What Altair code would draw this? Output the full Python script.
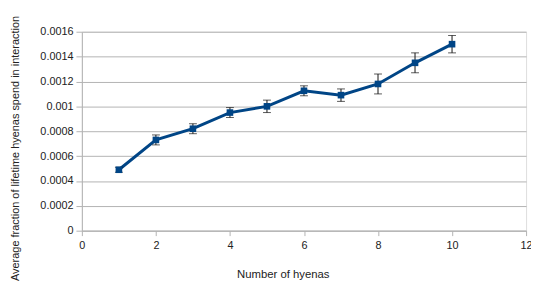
import altair as alt
import pandas as pd

hyenas = [1, 2, 3, 4, 5, 6, 7, 8, 9, 10]
fraction = [0.00049, 0.00073, 0.00082, 0.00095, 0.00100, 0.001125, 0.00109, 0.00118, 0.00135, 0.00150]
err = [0.00002, 0.00004, 0.00004, 0.00004, 0.00005, 0.00004, 0.00005, 0.00008, 0.00008, 0.00007]
y_ticks = [0, 0.0002, 0.0004, 0.0006, 0.0008, 0.001, 0.0012, 0.0014, 0.0016]
x_ticks = [0, 2, 4, 6, 8, 10, 12]

df = pd.DataFrame({"n": hyenas, "f": fraction, "e": err})
df["lo"] = df["f"] - df["e"]
df["hi"] = df["f"] + df["e"]

FONT = "Liberation Sans"
BLUE = "#004586"
GRID = "#b3b3b3"

x_axis = alt.Axis(title="Number of hyenas", values=x_ticks,
                  grid=False, tickSize=5, tickColor=GRID, domainColor=GRID,
                  labelFontSize=11, labelPadding=4, labelColor="#222",
                  labelOverlap=False,
                  titleFontSize=11.5, titleFontWeight="normal", titleColor="#222",
                  titleX=204, titleY=45, titleBaseline="middle",
                  labelFont=FONT, titleFont=FONT, labelFlush=False)
y_axis = alt.Axis(title="Average fraction of lifetime hyenas spend in interaction",
                  values=y_ticks,
                  format="~g", grid=True, gridColor=GRID, tickSize=6, tickColor=GRID,
                  domainColor=GRID, labelFontSize=11, labelPadding=3, labelColor="#222",
                  labelOverlap=False,
                  titleFontSize=11.1, titleFontWeight="normal", titleColor="#222",
                  titleX=-67, titleY=118, titleBaseline="middle", titleAngle=-90,
                  labelFont=FONT, titleFont=FONT)
xs = alt.Scale(domain=[0, 12], nice=False)
ys = alt.Scale(domain=[0, 0.0016], nice=False)

def X():
    return alt.X("n:Q", scale=xs, axis=x_axis)

def Y(field):
    return alt.Y(field, type="quantitative", scale=ys, axis=y_axis)

base = alt.Chart(df)
line = base.mark_line(color=BLUE, strokeWidth=3).encode(x=X(), y=Y("f"))
pts = base.mark_point(shape="square", filled=True, color=BLUE, size=45, opacity=1).encode(x=X(), y=Y("f"))
rule = base.mark_rule(color="#111", strokeWidth=1).encode(x=X(), y=Y("lo"), y2="hi:Q")
cap_lo = base.mark_tick(orient="horizontal", size=8, thickness=1, color="#111").encode(x=X(), y=Y("lo"))
cap_hi = base.mark_tick(orient="horizontal", size=8, thickness=1, color="#111").encode(x=X(), y=Y("hi"))

chart = alt.layer(line, rule, cap_lo, cap_hi, pts).properties(
    width=451, height=202,
    autosize=alt.AutoSizeParams(type="none"),
    padding={"left": 75, "top": 22, "right": 5, "bottom": 50},
).configure_view(stroke=GRID, strokeWidth=1).configure_axis(
    labelOverlap=False
).configure(background="white")

chart.save("out.html", embed_options={"renderer": "svg", "actions": False})
